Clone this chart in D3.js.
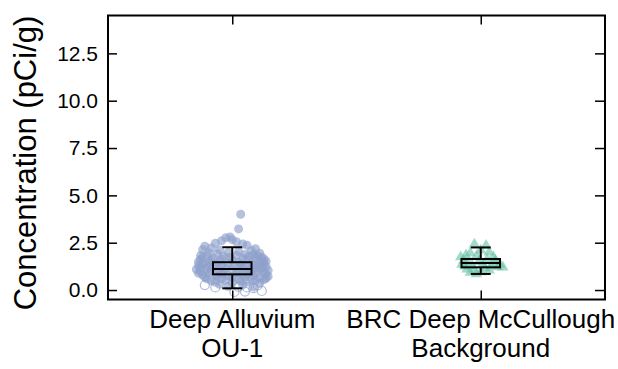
<!DOCTYPE html>
<html>
<head>
<meta charset="utf-8">
<script src="https://cdn.jsdelivr.net/npm/d3@7/dist/d3.min.js"></script>
<style>
  html, body { margin: 0; padding: 0; background: #fff; }
  svg { display: block; font-family: "Liberation Sans", Arial, sans-serif; }
</style>
</head>
<body>
<svg id="chart" width="618" height="369"></svg>
<script>
// ---- data ----
const categories = [["Deep Alluvium", "OU-1"], ["BRC Deep McCullough", "Background"]];
const yTickValues = [0, 2.5, 5, 7.5, 10, 12.5];
const yLabel = "Concentration (pCi/g)";

// box statistics [whiskerLow, q1, median, q3, whiskerHigh]
const alluviumBox = [0.09, 0.83, 1.11, 1.47, 2.26];
const backgroundBox = [0.85, 1.2, 1.43, 1.64, 2.25];

// detected samples: [jitter, value]
const alluviumDetects = [
  [0.04,4.0],[0.03,3.23],
  [-0.03,2.76],[-0.01,2.8],[0.0,2.66],[-0.05,2.6],[0.02,2.55],[-0.08,2.47],[0.05,2.43],[-0.13,2.31],[0.07,2.36],[-0.1,2.22],[0.11,2.18],[-0.14,2.13],[0.09,2.09],[-0.06,2.12],[0.03,2.04],[-0.02,1.98],[0.13,1.94],[-0.11,1.96],[-0.15,1.82],[0.14,1.73],[0.1,1.86],[-0.07,1.91],[0.06,1.88],
  [-0.12,1.81],[-0.04,1.79],[0.02,1.83],[0.08,1.77],[0.12,1.8],
  [-0.14,1.71],[-0.09,1.68],[-0.01,1.72],[0.05,1.66],[0.11,1.69],[0.15,1.64],
  [-0.15,1.61],[-0.1,1.57],[-0.05,1.63],[0.0,1.58],[0.07,1.6],[0.13,1.55],[0.16,1.52],
  [-0.16,1.49],[-0.11,1.46],[-0.06,1.51],[0.03,1.47],[0.09,1.43],[0.14,1.48],
  [-0.14,1.39],[-0.08,1.36],[-0.02,1.41],[0.04,1.37],[0.1,1.34],[0.15,1.4],
  [-0.16,1.29],[-0.12,1.31],[-0.05,1.27],[0.01,1.3],[0.06,1.26],[0.12,1.28],[0.16,1.23],
  [-0.15,1.19],[-0.09,1.21],[-0.03,1.17],[0.05,1.2],[0.11,1.16],[0.14,1.18],
  [-0.17,1.09],[-0.12,1.12],[-0.06,1.07],[0.0,1.1],[0.08,1.06],[0.13,1.11],[0.17,1.04],
  [-0.15,0.99],[-0.1,1.02],[-0.04,0.97],[0.03,1.0],[0.09,0.96],[0.15,0.98],
  [-0.16,0.89],[-0.11,0.92],[-0.05,0.87],[0.02,0.9],[0.07,0.86],[0.12,0.91],[0.16,0.84],
  [-0.14,0.79],[-0.08,0.81],[-0.02,0.77],[0.05,0.8],[0.1,0.76],[0.17,0.72],
  [-0.13,0.69],[-0.07,0.71],[0.0,0.67],[0.06,0.7],[0.13,0.66],[0.16,0.62],
  [-0.12,0.59],[-0.05,0.61],[0.03,0.57],[0.09,0.6],[0.15,0.55],
  [-0.1,0.49],[-0.03,0.52],[0.04,0.47],[0.11,0.5],
  [-0.08,0.41],[0.0,0.38],[0.07,0.43],[0.13,0.36],
  [-0.06,0.3],[0.05,0.27],[-0.02,0.2],[0.1,0.16]
];
// non-detects: [jitter, value]
const alluviumNonDetects = [
  [-0.13,0.26],[-0.08,0.14],[0.03,0.17],[0.07,0.14],[0.12,0.25],[0.14,-0.05],[0.01,-0.1],[0.06,-0.08],[0.1,0.1]
];
const backgroundDetects = [
  [-0.03,2.42],[0.025,2.35],[-0.095,1.75],[-0.07,1.85],[-0.05,1.95],[0.0,2.1],[0.04,2.0],[-0.02,1.8],[0.06,1.75],
  [-0.08,1.55],[-0.06,1.45],[-0.01,1.5],[0.03,1.62],[0.07,1.55],[0.09,1.35],[0.105,1.2],[0.08,1.22],[-0.09,1.35],
  [-0.04,1.3],[0.01,1.38],[0.05,1.28],[-0.065,1.1],[-0.03,1.05],[0.02,1.15],[-0.05,0.92],[-0.02,0.85],[0.0,0.95],
  [0.04,1.05],[-0.075,1.25],[0.065,1.45]
];

// ---- layout ----
const svg = d3.select("#chart");
const plotLeft = 108, plotRight = 605, plotTop = 15.5, plotBottom = 299.5;
const x = d3.scaleLinear().domain([0.5, 2.5]).range([plotLeft, plotRight]);
const y = d3.scaleLinear().domain([-0.5, 14.5]).range([plotBottom, plotTop]);
const jitterSpread = 0.85;
const blue = "#8da0cb", green = "#66c2a5";

svg.append("rect").attr("width", 618).attr("height", 369).attr("fill", "#fff");

const plot = svg.append("g");
plot.selectAll("circle.nd").data(alluviumNonDetects).join("circle")
  .attr("class", "nd")
  .attr("cx", d => x(1 + d[0] * jitterSpread)).attr("cy", d => y(d[1])).attr("r", 4.5)
  .attr("fill", "none").attr("stroke", blue).attr("stroke-opacity", 0.7).attr("stroke-width", 1.2);
plot.selectAll("circle.det").data(alluviumDetects).join("circle")
  .attr("class", "det")
  .attr("cx", d => x(1 + d[0] * jitterSpread)).attr("cy", d => y(d[1])).attr("r", 4.5)
  .attr("fill", blue).attr("fill-opacity", 0.65);
const tri = d3.symbol().type(d3.symbolTriangle).size(55);
plot.selectAll("path.tri").data(backgroundDetects).join("path")
  .attr("class", "tri")
  .attr("d", tri)
  .attr("transform", d => `translate(${x(2 + d[0] * jitterSpread)},${y(d[1])})`)
  .attr("fill", green).attr("fill-opacity", 0.6);

// boxes
const boxW = 0.155, capW = 0.08;
[[1, alluviumBox], [2, backgroundBox]].forEach(([pos, s]) => {
  const g = svg.append("g").attr("stroke", "#000").attr("stroke-width", 2).attr("fill", "none");
  g.append("line").attr("x1", x(pos)).attr("x2", x(pos)).attr("y1", y(s[0])).attr("y2", y(s[1]));
  g.append("line").attr("x1", x(pos)).attr("x2", x(pos)).attr("y1", y(s[3])).attr("y2", y(s[4]));
  g.append("line").attr("x1", x(pos - capW / 2)).attr("x2", x(pos + capW / 2)).attr("y1", y(s[0])).attr("y2", y(s[0]));
  g.append("line").attr("x1", x(pos - capW / 2)).attr("x2", x(pos + capW / 2)).attr("y1", y(s[4])).attr("y2", y(s[4]));
  g.append("rect").attr("x", x(pos - boxW / 2)).attr("width", x(pos + boxW / 2) - x(pos - boxW / 2))
    .attr("y", y(s[3])).attr("height", y(s[1]) - y(s[3]));
  g.append("line").attr("x1", x(pos - boxW / 2)).attr("x2", x(pos + boxW / 2)).attr("y1", y(s[2])).attr("y2", y(s[2]));
});

// axes
const fmt = d3.format(".1f");
const yAxis = svg.append("g").attr("transform", `translate(${plotLeft},0)`)
  .call(d3.axisLeft(y).tickValues(yTickValues).tickFormat(fmt).tickSize(-9).tickPadding(10));
const yAxisR = svg.append("g").attr("transform", `translate(${plotRight},0)`)
  .call(d3.axisRight(y).tickValues(yTickValues).tickFormat("").tickSize(-10));
const xAxis = svg.append("g").attr("transform", `translate(0,${plotBottom})`)
  .call(d3.axisBottom(x).tickValues([1, 2]).tickFormat("").tickSize(-9));
const xAxisT = svg.append("g").attr("transform", `translate(0,${plotTop})`)
  .call(d3.axisTop(x).tickValues([1, 2]).tickFormat("").tickSize(-9));
[yAxis, yAxisR, xAxis, xAxisT].forEach(a => {
  a.select(".domain").remove();
  a.selectAll(".tick line").attr("stroke", "#000").attr("stroke-width", 1.5);
});
yAxis.selectAll(".tick text").attr("font-size", 21).attr("fill", "#000")
  .attr("font-family", "'Liberation Sans', Arial, sans-serif");

// frame
svg.append("rect").attr("x", plotLeft).attr("y", plotTop).attr("width", plotRight - plotLeft).attr("height", plotBottom - plotTop)
  .attr("fill", "none").attr("stroke", "#000").attr("stroke-width", 2);

// category labels
categories.forEach((lines, i) => {
  const t = svg.append("text").attr("text-anchor", "middle").attr("font-size", 26).attr("fill", "#000");
  lines.forEach((ln, k) => {
    t.append("tspan").attr("x", x(i + 1)).attr("y", 328 + k * 28.5).text(ln);
  });
});

// y label
svg.append("text").attr("transform", "translate(36,163) rotate(-90)")
  .attr("text-anchor", "middle").attr("font-size", 31).attr("fill", "#000").text(yLabel);
</script>
</body>
</html>
